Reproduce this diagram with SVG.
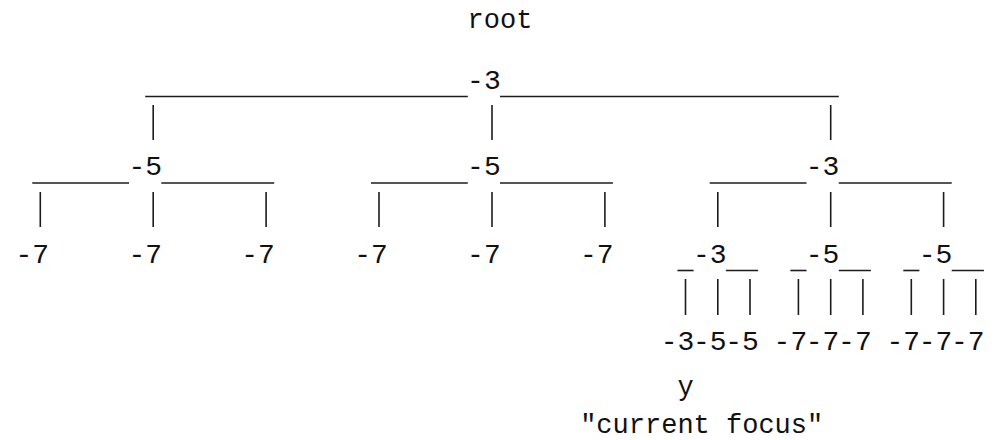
<svg xmlns="http://www.w3.org/2000/svg" width="994" height="440" viewBox="0 0 994 440">
<style>
text{font-family:"Liberation Mono","DejaVu Sans Mono",monospace;font-size:28px;fill:#111;text-anchor:middle}
.w{font-size:27px}
.c line{stroke:#1c1c1c;stroke-width:1.6}
</style>
<rect width="994" height="440" fill="#fff"/>
<g id="connectors" class="c">
<line x1="145.2" y1="96.5" x2="467.8" y2="96.5"/>
<line x1="500" y1="96.5" x2="838.8" y2="96.5"/>
<line x1="153.2" y1="105" x2="153.2" y2="140"/>
<line x1="492" y1="105" x2="492" y2="140"/>
<line x1="830.7" y1="105" x2="830.7" y2="140"/>
<line x1="32.3" y1="183" x2="129" y2="183"/>
<line x1="161.3" y1="183" x2="274.2" y2="183"/>
<line x1="371" y1="183" x2="467.8" y2="183"/>
<line x1="500" y1="183" x2="612.9" y2="183"/>
<line x1="709.7" y1="183" x2="806.5" y2="183"/>
<line x1="838.8" y1="183" x2="951.7" y2="183"/>
<line x1="40.3" y1="192" x2="40.3" y2="227"/>
<line x1="153.2" y1="192" x2="153.2" y2="227"/>
<line x1="266.1" y1="192" x2="266.1" y2="227"/>
<line x1="379" y1="192" x2="379" y2="227"/>
<line x1="492" y1="192" x2="492" y2="227"/>
<line x1="604.9" y1="192" x2="604.9" y2="227"/>
<line x1="717.8" y1="192" x2="717.8" y2="227"/>
<line x1="830.7" y1="192" x2="830.7" y2="227"/>
<line x1="943.6" y1="192" x2="943.6" y2="227"/>
<line x1="677.5" y1="270.5" x2="693.6" y2="270.5"/>
<line x1="725.9" y1="270.5" x2="758.1" y2="270.5"/>
<line x1="790.4" y1="270.5" x2="806.5" y2="270.5"/>
<line x1="838.8" y1="270.5" x2="870.9" y2="270.5"/>
<line x1="903.3" y1="270.5" x2="919.4" y2="270.5"/>
<line x1="951.7" y1="270.5" x2="983.9" y2="270.5"/>
<line x1="685.5" y1="279" x2="685.5" y2="315"/>
<line x1="717.8" y1="279" x2="717.8" y2="315"/>
<line x1="750" y1="279" x2="750" y2="315"/>
<line x1="798.4" y1="279" x2="798.4" y2="315"/>
<line x1="830.7" y1="279" x2="830.7" y2="315"/>
<line x1="862.9" y1="279" x2="862.9" y2="315"/>
<line x1="911.3" y1="279" x2="911.3" y2="315"/>
<line x1="943.6" y1="279" x2="943.6" y2="315"/>
<line x1="975.8" y1="279" x2="975.8" y2="315"/>
</g>
<g id="root-label"><text class="w" x="500" y="28">root</text></g>
<g id="n-root"><text x="483.9" y="89">-3</text></g>
<g id="n-a"><text x="145.2" y="175">-5</text></g>
<g id="n-b"><text x="483.9" y="175">-5</text></g>
<g id="n-c"><text x="822.6" y="175">-3</text></g>
<g id="n-a1"><text x="32.3" y="263">-7</text></g>
<g id="n-a2"><text x="145.2" y="263">-7</text></g>
<g id="n-a3"><text x="258.1" y="263">-7</text></g>
<g id="n-b1"><text x="371" y="263">-7</text></g>
<g id="n-b2"><text x="483.9" y="263">-7</text></g>
<g id="n-b3"><text x="596.8" y="263">-7</text></g>
<g id="n-c1"><text x="709.7" y="263">-3</text></g>
<g id="n-c2"><text x="822.6" y="263">-5</text></g>
<g id="n-c3"><text x="935.5" y="263">-5</text></g>
<g id="n-c1a"><text x="677.5" y="350">-3</text></g>
<g id="n-c1b"><text x="709.7" y="350">-5</text></g>
<g id="n-c1c"><text x="742" y="350">-5</text></g>
<g id="n-c2a"><text x="790.4" y="350">-7</text></g>
<g id="n-c2b"><text x="822.6" y="350">-7</text></g>
<g id="n-c2c"><text x="854.9" y="350">-7</text></g>
<g id="n-c3a"><text x="903.3" y="350">-7</text></g>
<g id="n-c3b"><text x="935.5" y="350">-7</text></g>
<g id="n-c3c"><text x="967.8" y="350">-7</text></g>
<g id="focus-label">
<text class="w" x="685.5" y="395">y</text>
<text class="w" x="701.7" y="433">"current focus"</text>
</g>
</svg>
